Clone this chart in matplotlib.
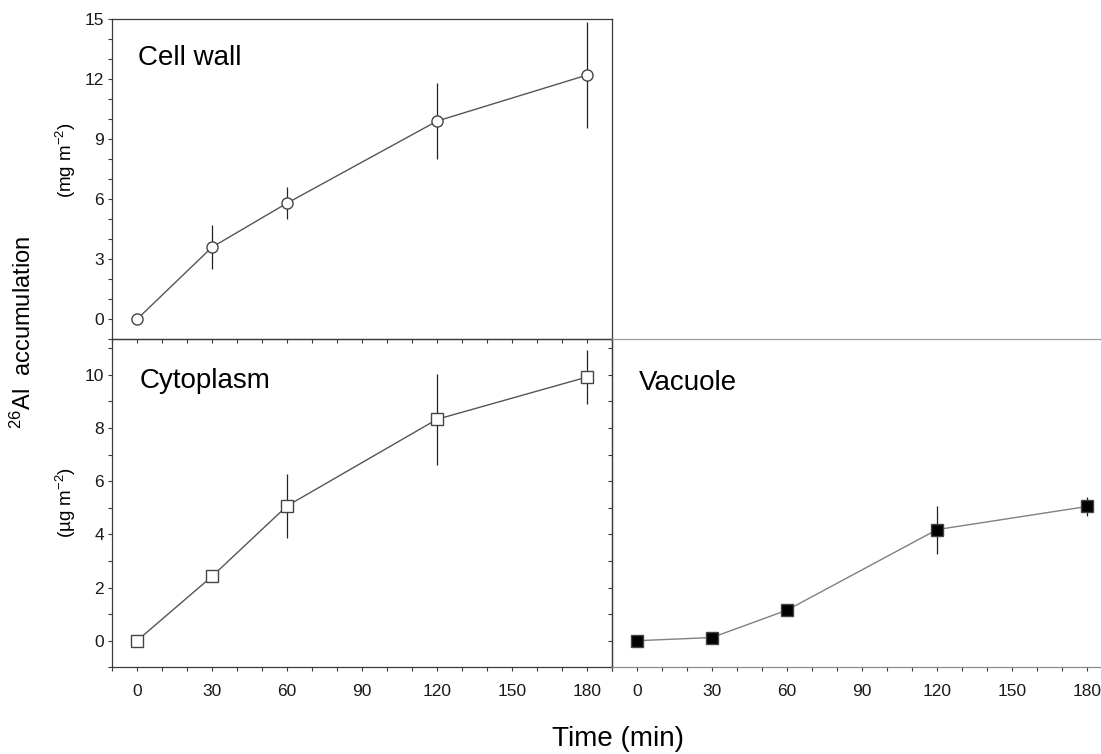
import matplotlib
matplotlib.use('Agg')
import matplotlib.pyplot as plt
from matplotlib.ticker import MultipleLocator

plt.rcParams['font.family'] = ['Liberation Sans', 'DejaVu Sans']
plt.rcParams['mathtext.default'] = 'regular'

# ---- data ----
time_min = [0, 30, 60, 120, 180]
cell_wall = [0.0, 3.6, 5.8, 9.9, 12.2]
cell_wall_err = [0.0, 1.1, 0.8, 1.9, 2.65]
cytoplasm = [0.0, 2.42, 5.07, 8.33, 9.92]
cytoplasm_err = [0.0, 0.0, 1.2, 1.72, 1.0]
vacuole = [0.0, 0.12, 1.15, 4.18, 5.05]
vacuole_err = [0.0, 0.0, 0.0, 0.9, 0.35]

x_ticks = [0, 30, 60, 90, 120, 150, 180]
panel_titles = ['Cell wall', 'Cytoplasm', 'Vacuole']

W, H = 1101, 754
fig = plt.figure(figsize=(W / 100, H / 100), dpi=100)

def px_axes(left, top, width, height):
    return fig.add_axes([left / W, (H - top - height) / H, width / W, height / H])

ax_tl = px_axes(112, 19, 500, 320.3)
ax_bl = px_axes(112, 339.3, 500, 328)
ax_br = px_axes(612, 339.3, 500, 328)

dark = '#3a3a3a'
linec = '#555555'

for ax in (ax_tl, ax_bl, ax_br):
    ax.set_xlim(-10, 190)
    ax.xaxis.set_major_locator(MultipleLocator(30))
    ax.xaxis.set_minor_locator(MultipleLocator(10))
    ax.tick_params(axis='both', which='major', direction='out', length=3.2,
                   width=0.8, color=dark, labelsize=12.5, pad=2.5,
                   labelcolor='#1a1a1a')
    ax.tick_params(axis='both', which='minor', direction='out', length=3.2,
                   width=0.8, color=dark)
    ax.tick_params(axis='x', which='major', pad=8.5)
    for s in ax.spines.values():
        s.set_color(dark)
        s.set_linewidth(0.9)
    ax.set_facecolor('none')

# top-left: cell wall
ax_tl.set_ylim(-1, 15)
ax_tl.yaxis.set_major_locator(MultipleLocator(3))
ax_tl.yaxis.set_minor_locator(MultipleLocator(1))
ax_tl.tick_params(axis='x', labelbottom=False)
ax_tl.set_xticks(x_ticks)

# bottom-left: cytoplasm
ax_bl.set_ylim(-1, 11.34)
ax_bl.yaxis.set_major_locator(MultipleLocator(2))
ax_bl.yaxis.set_minor_locator(MultipleLocator(1))
ax_bl.set_xticks(x_ticks)

# bottom-right: vacuole (shares y scale with cytoplasm)
ax_br.set_ylim(-1, 11.34)
ax_br.yaxis.set_major_locator(MultipleLocator(2))
ax_br.yaxis.set_minor_locator(MultipleLocator(1))
ax_br.set_xticks(x_ticks)
ax_br.tick_params(axis='y', which='both', labelleft=False)
ax_br.spines['top'].set_color('#9a9a9a')
ax_br.spines['bottom'].set_color('#8a8a8a')
ax_br.spines['right'].set_visible(False)

# data
def draw(ax, y, err, marker, face, lc):
    ax.errorbar(time_min, y, yerr=err, fmt='none', ecolor='#222222',
                elinewidth=0.9, capsize=0, zorder=2)
    ax.plot(time_min, y, color=lc, lw=1.0, marker=marker, markersize=8,
            markerfacecolor=face, markeredgecolor='#444444',
            markeredgewidth=1.0, zorder=3, clip_on=False)

draw(ax_tl, cell_wall, cell_wall_err, 'o', 'white', linec)
draw(ax_bl, cytoplasm, cytoplasm_err, 's', 'white', linec)
draw(ax_br, vacuole, vacuole_err, 's', 'black', '#808080')

# panel labels
label_pos = [(26 / 500, 1 - 46 / 320.3), (28 / 500, 1 - 49 / 328),
             (27 / 500, 1 - 51 / 328)]
for ax, t, pos in zip((ax_tl, ax_bl, ax_br), panel_titles, label_pos):
    ax.text(pos[0], pos[1], t, transform=ax.transAxes, fontsize=20,
            ha='left', va='baseline')

# axis labels
fig.text(66 / W, 1 - 160 / H, r'(mg m$^{-2}$)', rotation=90, fontsize=13.5,
         ha='center', va='center')
fig.text(66 / W, 1 - 502 / H, r'(µg m$^{-2}$)', rotation=90, fontsize=13.5,
         ha='center', va='center')
fig.text(23 / W, 1 - 332 / H, r'$^{26}$Al  accumulation', rotation=90,
         fontsize=17, ha='center', va='center')
fig.text(618 / W, 1 - 739 / H, 'Time (min)', fontsize=20, ha='center',
         va='center')

fig.savefig('out.png', dpi=100)
